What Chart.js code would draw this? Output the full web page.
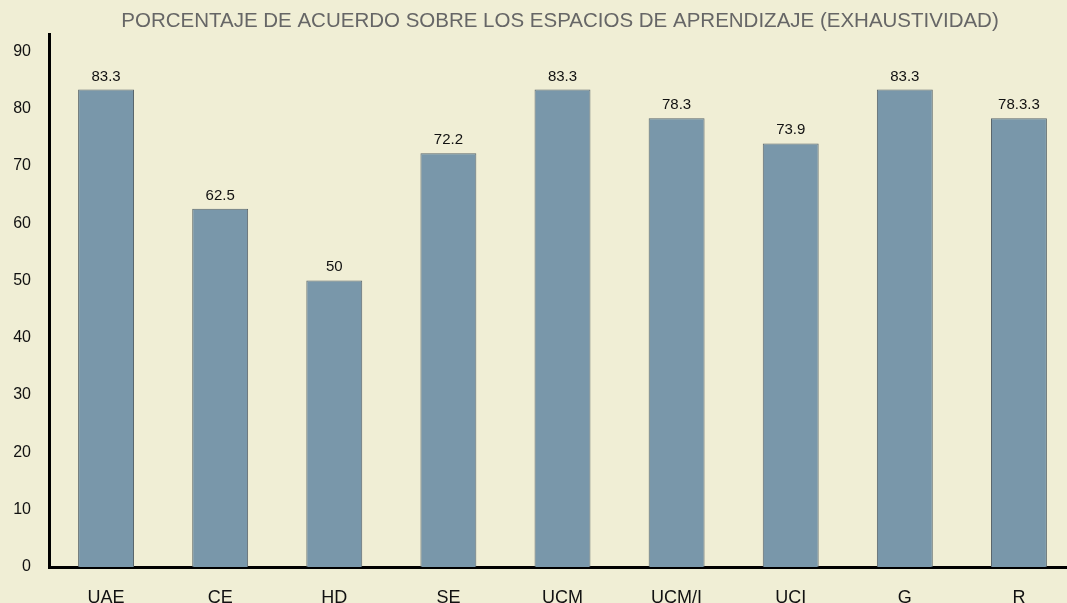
<!DOCTYPE html>
<html>
<head>
<meta charset="utf-8">
<script src="https://cdn.jsdelivr.net/npm/chart.js@4.4.1/dist/chart.umd.min.js"></script>
<style>
  html, body { margin:0; padding:0; background:#f0eed5; overflow:hidden; }
  #wrap { width:1076px; height:603px; position:relative; }
</style>
</head>
<body>
<div id="wrap"><canvas id="chart"></canvas></div>
<script>
const TITLE = 'PORCENTAJE DE ACUERDO SOBRE LOS ESPACIOS DE APRENDIZAJE (EXHAUSTIVIDAD)';
const categories = ['UAE', 'CE', 'HD', 'SE', 'UCM', 'UCM/I', 'UCI', 'G', 'R'];
const values = [83.3, 62.5, 50, 72.2, 83.3, 78.3, 73.9, 83.3, 78.3];
const valueLabels = ['83.3', '62.5', '50', '72.2', '83.3', '78.3', '73.9', '83.3', '78.3.3'];
const yTicks = [0, 10, 20, 30, 40, 50, 60, 70, 80, 90];

const FONT = '"Liberation Sans", Arial, sans-serif';

// title + value labels drawn by hand
const extras = {
  id: 'extras',
  afterDatasetsDraw(chart){
    const ctx = chart.ctx;
    const meta = chart.getDatasetMeta(0);
    ctx.save();
    ctx.fillStyle = '#111';
    ctx.font = '15px ' + FONT;
    ctx.textAlign = 'center';
    ctx.textBaseline = 'alphabetic';
    meta.data.forEach((bar, i)=>{
      ctx.fillText(valueLabels[i], bar.x, bar.y - 9);
    });
    ctx.fillStyle = '#666';
    ctx.font = '20.5px ' + FONT;
    ctx.textBaseline = 'middle';
    ctx.fillText(TITLE, 560, 21);
    ctx.restore();
  }
};

new Chart(document.getElementById('chart'), {
  type: 'bar',
  data: {
    labels: categories,
    datasets: [{
      data: values,
      backgroundColor: '#7997aa',
      borderColor: '#5a666c',
      borderWidth: 1,
      barPercentage: 0.98,
      categoryPercentage: 0.5
    }]
  },
  options: {
    responsive: true,
    maintainAspectRatio: false,
    animation: false,
    layout: { padding: { top: 34, right: 0, left: 0, bottom: 0 } },
    plugins: {
      legend: { display: false },
      title: { display: false },
      tooltip: { enabled: false }
    },
    scales: {
      x: {
        afterFit: axis => { axis.height = 36; },
        grid: { display: false, drawTicks: false },
        border: { color: '#000', width: 3 },
        ticks: { color: '#111', font: { family: FONT, size: 18 }, padding: 20 }
      },
      y: {
        min: 0,
        max: 93,
        afterFit: axis => { axis.width = 49; },
        afterBuildTicks: axis => { axis.ticks = yTicks.map(v => ({ value: v })); },
        grid: { display: false, drawTicks: false },
        border: { color: '#000', width: 3 },
        ticks: { color: '#111', font: { family: FONT, size: 16 }, padding: 18 }
      }
    }
  },
  plugins: [extras]
});
</script>
</body>
</html>
